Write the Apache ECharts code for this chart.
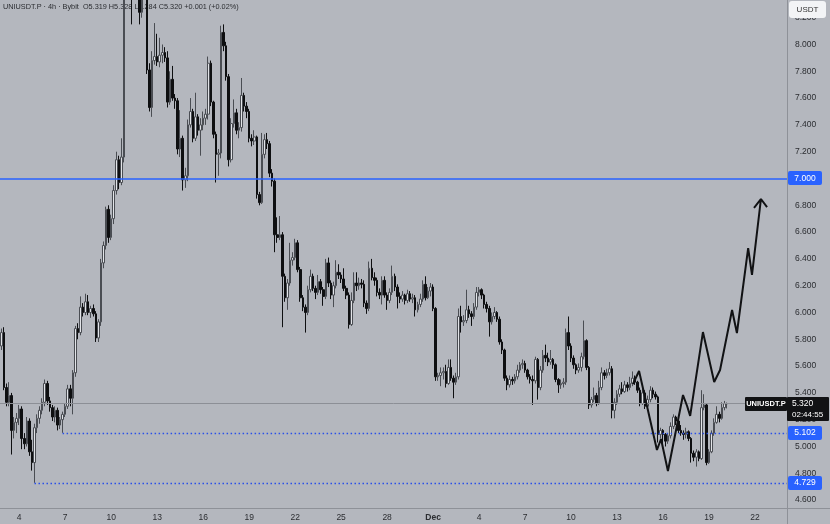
<!DOCTYPE html>
<html><head><meta charset="utf-8">
<script src="https://cdn.jsdelivr.net/npm/echarts@6/dist/echarts.min.js"></script>
<style>html,body{margin:0;padding:0;background:#b4b7be}#c{width:830px;height:524px}</style>
</head><body><div id="c"></div>
<script>
// ---- data ----
const firstOpen = 5.75;            // open of the first visible 4h candle
// each candle: [close, high, low]; open = previous close
const candles = [
[5.85,5.88,5.72],[5.44,5.89,5.42],[5.33,5.47,5.30],[5.38,5.48,5.30],[5.12,5.40,4.94],
[5.18,5.22,5.06],[5.21,5.25,5.10],[5.28,5.31,5.16],[5.06,5.30,4.98],[5.02,5.10,4.98],
[5.19,5.22,5.00],[4.96,5.21,4.93],[4.88,5.05,4.82],[5.14,5.17,4.729],[5.21,5.24,5.10],
[5.27,5.30,5.17],[5.33,5.36,5.24],[5.47,5.50,5.30],[5.34,5.49,5.31],[5.29,5.37,5.26],
[5.22,5.31,5.19],[5.27,5.30,5.18],[5.16,5.29,5.12],[5.20,5.22,5.13],[5.24,5.26,5.102],
[5.30,5.32,5.22],[5.43,5.46,5.28],[5.36,5.46,5.30],[5.55,5.57,5.24],[5.88,5.90,5.52],
[5.85,5.92,5.80],[6.04,6.12,5.83],[6.00,6.07,5.97],[6.08,6.14,5.98],[6.00,6.13,5.98],
[6.03,6.05,5.96],[5.99,6.06,5.97],[5.81,6.01,5.78],[5.93,5.95,5.78],[6.37,6.40,5.90],
[6.50,6.53,6.33],[6.77,6.79,6.47],[6.56,6.80,6.52],[6.70,6.73,6.54],[6.91,6.95,6.66],
[7.14,7.20,6.88],[6.97,7.17,6.92],[7.16,7.30,6.95],[8.95,9.25,7.12],[9.60,10.05,8.75],
[9.15,9.80,8.85],[8.70,9.35,8.15],[8.95,9.10,8.55],[8.75,9.05,8.45],[8.24,8.80,8.15],
[8.50,8.62,8.20],[8.62,8.85,8.40],[7.81,8.70,7.78],[7.53,7.86,7.50],[7.88,7.95,7.46],
[7.91,8.16,7.85],[7.87,8.08,7.84],[7.92,8.05,7.83],[7.94,8.00,7.86],[7.90,7.98,7.87],
[7.57,7.95,7.53],[7.74,7.80,7.55],[7.60,7.84,7.58],[7.58,7.63,7.52],[7.22,7.60,7.18],
[7.30,7.51,7.16],[6.99,7.32,6.91],[7.02,7.08,6.93],[7.40,7.44,6.98],[7.50,7.60,7.38],
[7.30,7.52,7.27],[7.46,7.64,7.28],[7.36,7.48,7.32],[7.40,7.45,7.17],[7.45,7.50,7.36],
[7.48,7.52,7.40],[7.86,7.91,7.44],[7.57,7.88,7.54],[7.33,7.58,7.30],[7.18,7.35,6.97],
[7.19,7.22,7.02],[8.09,8.14,7.15],[7.99,8.15,7.95],[7.76,8.02,7.73],[7.14,7.78,7.09],
[7.41,7.45,7.12],[7.49,7.59,7.38],[7.36,7.52,7.33],[7.38,7.42,7.30],[7.62,7.75,7.35],
[7.54,7.64,7.50],[7.50,7.57,7.45],[7.30,7.52,7.27],[7.28,7.33,7.24],[7.31,7.36,7.25],
[6.88,7.32,6.85],[6.82,6.90,6.80],[7.18,7.34,6.81],[7.29,7.33,7.15],[7.26,7.34,7.22],
[7.04,7.28,7.01],[6.98,7.07,6.94],[6.58,7.00,6.45],[6.56,6.71,6.52],[6.58,6.72,6.54],
[6.27,6.60,5.89],[6.11,6.29,6.08],[6.22,6.25,6.02],[6.39,6.52,6.20],[6.41,6.45,6.35],
[6.52,6.55,6.39],[6.32,6.54,6.30],[6.11,6.34,6.08],[6.04,6.13,6.01],[6.00,6.06,5.85],
[6.17,6.20,5.98],[6.27,6.32,6.15],[6.18,6.29,6.16],[6.15,6.20,6.10],[6.23,6.28,6.13],
[6.17,6.25,6.14],[6.12,6.19,6.05],[6.37,6.40,6.10],[6.22,6.41,6.19],[6.13,6.24,6.10],
[6.20,6.23,6.04],[6.30,6.39,6.18],[6.28,6.36,6.25],[6.25,6.30,6.22],[6.18,6.33,6.16],
[6.13,6.20,6.10],[5.91,6.15,5.88],[6.09,6.15,5.90],[6.22,6.30,6.07],[6.20,6.30,6.16],
[6.22,6.26,6.17],[6.21,6.25,6.18],[6.07,6.24,6.04],[6.03,6.09,5.99],[6.33,6.38,6.01],
[6.26,6.40,6.24],[6.24,6.30,6.20],[6.15,6.26,6.12],[6.13,6.18,6.10],[6.24,6.27,6.06],
[6.13,6.27,6.11],[6.09,6.15,6.02],[6.15,6.18,6.07],[6.27,6.35,6.13],[6.19,6.29,6.16],
[6.12,6.21,6.03],[6.10,6.15,6.07],[6.13,6.16,6.08],[6.09,6.14,6.06],[6.14,6.17,6.07],
[6.10,6.16,6.08],[6.11,6.14,6.07],[6.02,6.13,5.97],[6.06,6.08,6.00],[6.10,6.14,6.04],
[6.21,6.24,6.08],[6.11,6.27,6.09],[6.16,6.19,6.10],[6.19,6.22,6.12],[6.03,6.21,6.01],
[5.52,6.04,5.49],[5.53,5.55,5.49],[5.55,5.59,5.45],[5.56,5.59,5.50],[5.47,5.61,5.44],
[5.59,5.65,5.46],[5.51,5.65,5.49],[5.48,5.53,5.36],[5.52,5.55,5.46],[5.97,6.03,5.50],
[5.93,6.05,5.85],[5.94,5.98,5.90],[6.02,6.17,5.92],[5.99,6.05,5.96],[5.97,6.01,5.90],
[6.04,6.07,5.95],[6.15,6.19,6.02],[6.17,6.19,6.12],[6.13,6.18,6.10],[6.06,6.14,6.03],
[6.03,6.08,6.00],[5.93,6.05,5.82],[5.97,6.00,5.91],[6.00,6.04,5.95],[5.95,6.01,5.93],
[5.78,5.97,5.76],[5.72,5.80,5.69],[5.51,5.73,5.49],[5.46,5.53,5.42],[5.50,5.53,5.44],
[5.49,5.52,5.46],[5.52,5.54,5.47],[5.57,5.61,5.50],[5.61,5.63,5.55],[5.62,5.65,5.58],
[5.57,5.64,5.55],[5.52,5.58,5.50],[5.50,5.54,5.47],[5.49,5.53,5.31],[5.65,5.67,5.47],
[5.44,5.66,5.35],[5.57,5.60,5.42],[5.68,5.72,5.55],[5.66,5.76,5.63],[5.63,5.70,5.60],
[5.65,5.72,5.61],[5.61,5.66,5.58],[5.50,5.62,5.48],[5.46,5.51,5.40],[5.47,5.50,5.43],
[5.48,5.51,5.44],[5.85,5.88,5.46],[5.75,5.97,5.72],[5.66,5.77,5.63],[5.61,5.68,5.58],
[5.57,5.62,5.54],[5.59,5.62,5.55],[5.67,5.70,5.56],[5.79,5.94,5.65],[5.59,5.80,5.57],
[5.31,5.60,5.28],[5.35,5.37,5.29],[5.38,5.44,5.33],[5.32,5.40,5.30],[5.44,5.49,5.31],
[5.55,5.59,5.42],[5.53,5.57,5.50],[5.55,5.58,5.51],[5.58,5.63,5.53],[5.27,5.60,5.21],
[5.33,5.36,5.21],[5.39,5.42,5.31],[5.43,5.46,5.37],[5.41,5.48,5.39],[5.46,5.49,5.40],
[5.44,5.48,5.41],[5.47,5.52,5.42],[5.51,5.56,5.45],[5.48,5.53,5.46],[5.42,5.49,5.40],
[5.32,5.44,5.30],[5.40,5.43,5.31],[5.30,5.42,5.28],[5.35,5.38,5.29],[5.42,5.45,5.33],
[5.39,5.44,5.36],[5.37,5.41,5.35],[5.09,5.38,5.03],[5.12,5.14,5.06],[5.09,5.13,5.02],
[5.04,5.10,5.00],[5.08,5.10,5.02],[5.15,5.18,5.06],[5.22,5.24,5.13],[5.19,5.23,5.16],
[5.12,5.20,5.10],[5.10,5.16,5.08],[5.09,5.12,5.05],[5.11,5.14,5.06],[5.06,5.12,5.04],
[4.95,5.07,4.88],[4.92,4.97,4.89],[4.96,4.98,4.85],[4.91,4.97,4.89],[5.29,5.42,4.90],
[5.31,5.39,5.27],[4.88,5.32,4.86],[4.96,4.98,4.87],[5.10,5.12,4.95],[5.18,5.21,5.08],
[5.24,5.30,5.17],[5.21,5.26,5.18],[5.29,5.33,5.20],[5.319,5.34,5.27],[5.320,5.328,5.284]
];
const slotCount = 308;             // 4h slots on the time axis (incl. empty future)
const firstSlotHour = 20;          // first slot: Nov 2, 20:00
const tickDates = ['11-04','11-07','11-10','11-13','11-16','11-19','11-22','11-25','11-28',
                   '12-01','12-04','12-07','12-10','12-13','12-16','12-19','12-22'];
const tickTexts = ['4','7','10','13','16','19','22','25','28','Dec','4','7','10','13','16','19','22'];
const yTickValues = [4.6,4.8,5.0,5.2,5.4,5.6,5.8,6.0,6.2,6.4,6.6,6.8,7.0,7.2,7.4,7.6,7.8,8.0,8.2];
const resistanceLevel = 7.000;
const supportLevels = [5.102, 4.729];
const supportStartSlot = [24.5, 13.5];
const lastPrice = 5.320;
const countdown = '02:44:55';
// hand-drawn projection path: [slot position, price]
const projectionPath = [[247.7,5.466],[250.1,5.563],[257.1,4.974],[258.7,5.056],[261.4,4.817],
  [267.3,5.384],[268.9,5.302],[270.1,5.228],[275.1,5.854],[276.7,5.720],[279.5,5.481],
  [281.8,5.571],[286.5,6.019],[288.4,5.847],[292.8,6.481],[294.3,6.280],[297.8,6.847],
  [295.1,6.780],[297.8,6.847],[300.2,6.787]];
const headerText = 'UNIUSDT.P · 4h · Bybit  O5.319 H5.328 L5.284 C5.320 +0.001 (+0.02%)';

// ---- build tables ----
const pad = n => (n < 10 ? '0' : '') + n;
const categories = [];
for (let i = 0; i < slotCount; i++) {
  const h = firstSlotHour + 4 * i;
  const d = 2 + Math.floor(h / 24);
  const mon = d <= 30 ? 11 : 12, day = d <= 30 ? d : d - 30;
  categories.push(pad(mon) + '-' + pad(day) + ' ' + pad(h % 24) + ':00');
}
const tickLookup = {};
tickDates.forEach((d, k) => { tickLookup[d + ' 00:00'] = tickTexts[k]; });
const ohlc = candles.map((c, i) => [i === 0 ? firstOpen : candles[i - 1][0], c[0], c[2], c[1]]);

const FONT = 'Liberation Sans';
const TXT = '#2b2d31';
const chart = echarts.init(document.getElementById('c'), null, {renderer: 'canvas'});
chart.setOption({
  animation: false,
  backgroundColor: '#b4b7be',
  grid: {left: 0, right: 43, top: 0, bottom: 16, containLabel: false},
  xAxis: [{
    type: 'category', data: categories, boundaryGap: true,
    axisLine: {show: false}, axisTick: {show: false}, splitLine: {show: false},
    axisLabel: {
      interval: (idx, val) => tickLookup[val] !== undefined,
      formatter: val => tickLookup[val] === 'Dec' ? '{b|Dec}' : (tickLookup[val] || ''),
      color: TXT, fontSize: 8.5, fontFamily: FONT, margin: 5,
      rich: {b: {fontWeight: 'bold', color: TXT, fontSize: 8.5, fontFamily: FONT}}
    }
  }, {
    type: 'value', min: 0, max: slotCount, show: false
  }],
  yAxis: [{
    type: 'value', position: 'right', min: 4.541, max: 8.332, scale: true,
    axisLine: {show: false}, axisTick: {show: false}, splitLine: {show: false},
    axisLabel: {customValues: yTickValues, formatter: v => v.toFixed(3), color: TXT,
      fontSize: 8.5, fontFamily: FONT, align: 'left', margin: 8}
  }],
  series: [{
    type: 'candlestick', xAxisIndex: 0, yAxisIndex: 0, data: ohlc, barWidth: '80%', clip: true,
    itemStyle: {color: '#e2e4e8', color0: '#0e0f11', borderColor: '#4a4d53', borderColor0: '#0e0f11', borderWidth: 1}
  }, {
    type: 'line', xAxisIndex: 1, yAxisIndex: 0, data: projectionPath, symbol: 'none', showSymbol: false,
    lineStyle: {color: '#111214', width: 2}, z: 5, silent: true,
    markLine: {
      silent: true, symbol: ['none', 'none'], label: {show: false}, animation: false,
      data: [
        [{coord: [0, resistanceLevel], lineStyle: {color: '#2962ff', width: 1.6, type: 'solid'}}, {coord: [slotCount, resistanceLevel]}],
        [{coord: [supportStartSlot[0], supportLevels[0]], lineStyle: {color: '#2a50e8', width: 1.3, type: [1.5, 2.5]}}, {coord: [slotCount, supportLevels[0]]}],
        [{coord: [supportStartSlot[1], supportLevels[1]], lineStyle: {color: '#2a50e8', width: 1.3, type: [1.5, 2.5]}}, {coord: [slotCount, supportLevels[1]]}],
        [{coord: [0, lastPrice], lineStyle: {color: '#8c8f96', width: 1, type: 'solid'}}, {coord: [slotCount, lastPrice]}]
      ]
    }
  }]
});

// ---- overlay labels placed through the y scale ----
const py = v => chart.convertToPixel({yAxisIndex: 0}, v);
const ZL = 1, ZZ = 100;
const rectEl = (x, y, w, h, fill, r) => ({type: 'rect', zlevel: ZL, z: ZZ, shape: {x, y, width: w, height: h, r: r || 0}, style: {fill}});
const textEl = (x, y, text, fill, font, align) => ({type: 'text', zlevel: ZL, z: ZZ + 1, x, y,
  style: {text, fill, font, align: align || 'left', verticalAlign: 'middle'}});
const blueBox = (v, txt) => [
  rectEl(788, Math.round(py(v)) - 7, 34, 14, '#2962ff', 2),
  textEl(805, py(v), txt, '#ffffff', '8.5px ' + FONT, 'center')
];
const pLast = py(lastPrice);
chart.setOption({graphic: [
  {type: 'text', x: 3, y: 7, z: 0, style: {text: headerText, fill: TXT, font: '7.3px ' + FONT, verticalAlign: 'middle'}},
  {type: 'line', zlevel: ZL, z: 90, shape: {x1: 0, y1: 508.5, x2: 830, y2: 508.5}, style: {stroke: '#8e9198', lineWidth: 1}},
  {type: 'line', zlevel: ZL, z: 90, shape: {x1: 787.5, y1: 0, x2: 787.5, y2: 524}, style: {stroke: '#8e9198', lineWidth: 1}},
  ...blueBox(resistanceLevel, resistanceLevel.toFixed(3)),
  ...blueBox(supportLevels[0], supportLevels[0].toFixed(3)),
  ...blueBox(supportLevels[1], supportLevels[1].toFixed(3)),
  rectEl(787, Math.round(pLast) - 7, 42, 24, '#111214', 1),
  textEl(792, pLast, lastPrice.toFixed(3), '#ffffff', '8.5px ' + FONT),
  textEl(792, pLast + 11, countdown, '#ffffff', '8px ' + FONT),
  rectEl(745, Math.round(pLast) - 7, 42, 14, '#111214', 1),
  textEl(766, pLast, 'UNIUSDT.P', '#ffffff', 'bold 7.5px ' + FONT, 'center'),
  rectEl(789, 1, 37, 17, '#f3f4f6', 3),
  textEl(807.5, 9.5, 'USDT', '#333333', '8px ' + FONT, 'center')
]});
</script></body></html>
